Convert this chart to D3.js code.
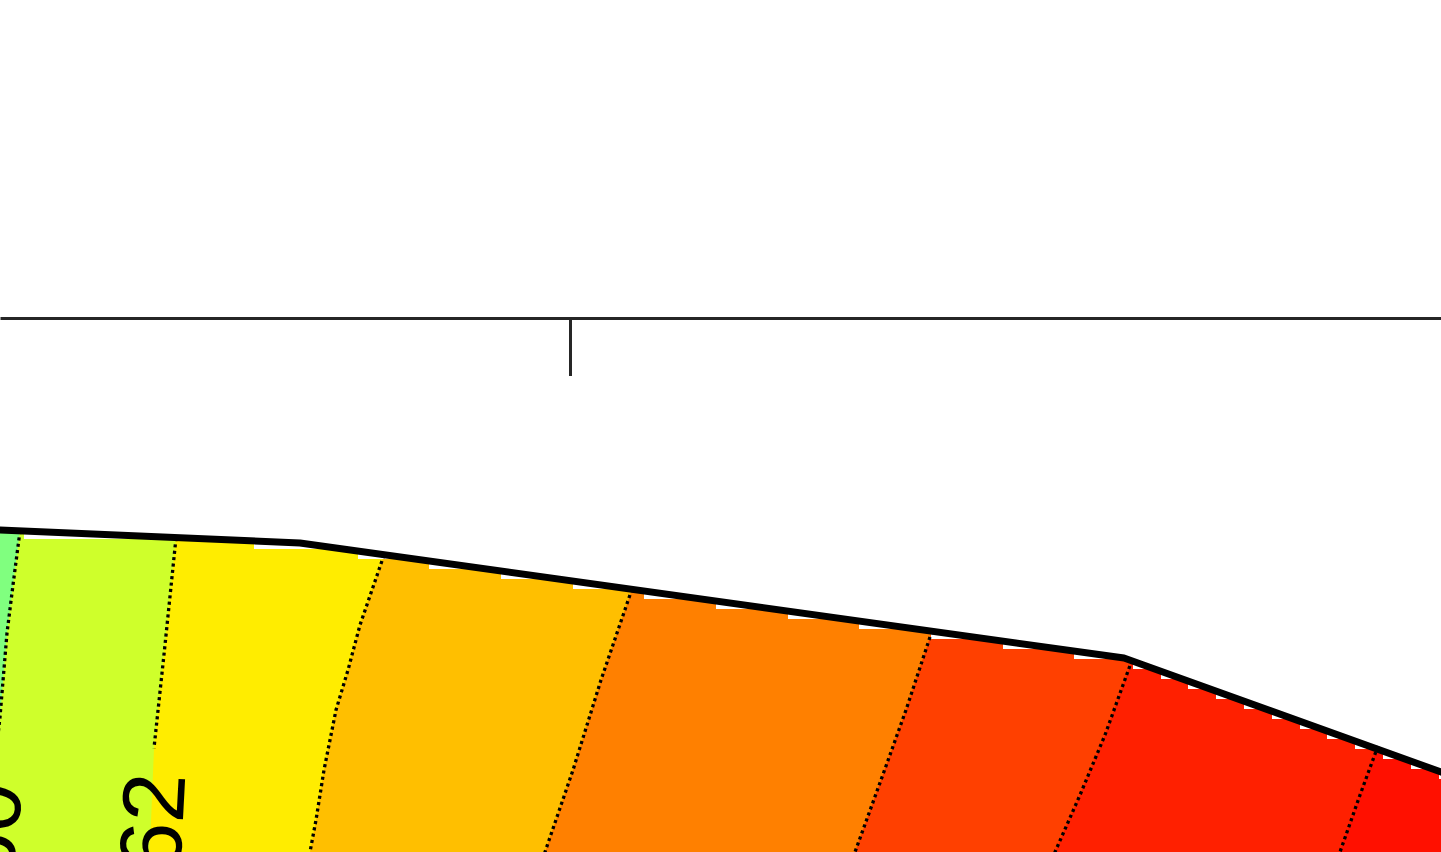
<!DOCTYPE html>
<html>
<head>
<meta charset="utf-8">
<script src="https://cdn.jsdelivr.net/npm/d3@7"></script>
<style>
  html, body { margin: 0; background: #fff; overflow: hidden; }
</style>
</head>
<body>
<div id="chart"></div>
<script>
/* =========================================
   Filled contour section under a surface
   (zoomed window: one top-axis tick visible)
   ========================================= */

// ---- Data (x along profile, y elevation; same units on both) ----
const xTicks = [0];
const contourLevels = [60, 62, 64, 66, 68, 70, 72];
const bandColors = ['#80ff7f', '#cfff2b', '#ffed00', '#ffbf00', '#ff8000', '#ff4000', '#ff2000', '#ff1000'];

// surface (top of the data region)
const surface = [[-6.00, -2.11], [-5.70, -2.12], [-2.70, -2.25], [5.54, -3.40], [8.71, -4.54], [9.00, -4.65]];

// contour lines, top to bottom
const line60 = [[-5.50, -2.13], [-5.57, -2.67], [-5.63, -3.15], [-5.70, -3.99], [-5.77, -4.62], [-5.84, -5.13], [-5.90, -5.82]];
const line62 = [[-3.94, -2.20], [-4.05, -3.27], [-4.16, -4.30], [-4.19, -5.04], [-4.24, -5.82]];
const line64 = [[-1.86, -2.37], [-1.98, -2.72], [-2.10, -3.07], [-2.22, -3.52], [-2.34, -3.92], [-2.46, -4.52], [-2.54, -5.02], [-2.60, -5.34], [-2.65, -5.82]];
const line66 = [[0.62, -2.71], [0.31, -3.62], [0.03, -4.52], [-0.25, -5.34], [-0.41, -5.82]];
const line68 = [[3.62, -3.13], [3.36, -3.92], [3.11, -4.62], [2.85, -5.34], [2.69, -5.82]];
const line70 = [[5.62, -3.42], [5.35, -4.17], [5.10, -4.77], [4.85, -5.34], [4.70, -5.82]];
const line72 = [[8.08, -4.28], [7.90, -4.77], [7.70, -5.34], [7.53, -5.82]];
const contourLines = [line60, line62, line64, line66, line68, line70, line72];

// inline labels (level, position on its line)
const labelLevels = [60, 62];
const labelPoints = [[-5.84, -5.13], [-4.19, -5.04]];

// grid the fill was computed on (rows)
const gridY0 = -0.01;
const gridDy = 0.1;

// ---- Layout ----
const W = 1441, H = 852;
const x = d3.scaleLinear().domain([-5.70, 8.71]).range([0, W]);
const y = d3.scaleLinear().domain([0, -5.34]).range([318, H]);
const topY = y(0);

const svg = d3.select('#chart').append('svg')
  .attr('width', W).attr('height', H)
  .style('display', 'block');
const defs = svg.append('defs');

// ---- Staircase clip under the surface (filled grid rows) ----
const surfaceAt = d3.scaleLinear()
  .domain(surface.map(d => x(d[0])))
  .range(surface.map(d => y(d[1])));
const row0 = y(gridY0);
const rowPx = y(gridY0 - gridDy) - row0;
const stepTop = px => row0 + Math.ceil((surfaceAt(px) - 2 - row0) / rowPx) * rowPx;

const samples = d3.range(-2, W + 3, 1).map(px => [px, stepTop(px)]);
const clipPts = [[-2, H + 60], ...samples, [W + 2, H + 60]];
defs.append('clipPath').attr('id', 'underSurface')
  .append('path')
  .attr('d', d3.line().curve(d3.curveStepAfter)(clipPts) + 'Z');

// ---- Bands ----
const gBands = svg.append('g').attr('clip-path', 'url(#underSurface)');

gBands.append('rect')
  .attr('x', -10).attr('y', topY)
  .attr('width', W + 20).attr('height', H - topY + 60)
  .attr('fill', bandColors[0]);

contourLines.forEach((pts, i) => {
  const p = pts.map(d => [x(d[0]), y(d[1])]);
  const last = p[p.length - 1];
  const poly = [[p[0][0], topY], ...p, [W + 20, last[1]], [W + 20, topY]];
  gBands.append('path')
    .attr('d', 'M' + poly.map(d => d.join(',')).join('L') + 'Z')
    .attr('fill', bandColors[i + 1]);
});

// ---- Label geometry ----
const fontSize = 88;
const labelGeom = labelLevels.map((lev, i) => {
  const pts = contourLines[contourLevels.indexOf(lev)];
  const [lx, ly] = labelPoints[i];
  const k = pts.findIndex(d => d[0] === lx && d[1] === ly);
  const a = pts[Math.max(0, k - 1)], b = pts[Math.min(pts.length - 1, k + 1)];
  const dx = x(b[0]) - x(a[0]), dy = y(b[1]) - y(a[1]);
  const ang = Math.atan2(-dy, -dx) * 180 / Math.PI;
  return { lev, px: x(lx), py: y(ly), ang };
});

// mask: break the lines under the labels
const mask = defs.append('mask').attr('id', 'labelGap')
  .attr('maskUnits', 'userSpaceOnUse')
  .attr('x', -200).attr('y', 0).attr('width', W + 400).attr('height', H + 200);
mask.append('rect')
  .attr('x', -200).attr('y', 0).attr('width', W + 400).attr('height', H + 200)
  .attr('fill', '#fff');
const gapLen = fontSize * 1.11 + 50;
const gapW = fontSize * 1.1;
mask.selectAll('rect.gap').data(labelGeom).join('rect')
  .attr('class', 'gap')
  .attr('x', -gapLen / 2).attr('y', -gapW / 2)
  .attr('width', gapLen).attr('height', gapW)
  .attr('transform', d => `translate(${d.px},${d.py}) rotate(${d.ang})`)
  .attr('fill', '#000');

// ---- Contour lines (dotted) ----
const line = d3.line().x(d => x(d[0])).y(d => y(d[1]));
svg.append('g').attr('mask', 'url(#labelGap)')
  .selectAll('path').data(contourLines).join('path')
  .attr('d', line)
  .attr('fill', 'none')
  .attr('stroke', '#000')
  .attr('stroke-width', 3.3)
  .attr('stroke-dasharray', '3.1,3.3');

// ---- Surface line ----
svg.append('path')
  .attr('d', line(surface))
  .attr('fill', 'none')
  .attr('stroke', '#000')
  .attr('stroke-width', 7)
  .attr('stroke-linejoin', 'round');

// ---- Labels ----
svg.selectAll('text.clabel').data(labelGeom).join('text')
  .attr('class', 'clabel')
  .attr('transform', d => `translate(${d.px},${d.py}) rotate(${d.ang})`)
  .attr('text-anchor', 'middle')
  .attr('dy', '0.36em')
  .attr('font-family', '"Liberation Sans", Arial, Helvetica, sans-serif')
  .attr('font-size', fontSize + 'px')
  .attr('fill', '#000')
  .text(d => d.lev);

// ---- Top axis (ticks inward) ----
svg.append('g')
  .attr('transform', `translate(0,${topY})`)
  .call(d3.axisBottom(x).tickValues(xTicks).tickSize(58).tickSizeOuter(0).tickFormat(''))
  .call(g => g.selectAll('path, line').attr('stroke', '#262626').attr('stroke-width', 3));
</script>
</body>
</html>
